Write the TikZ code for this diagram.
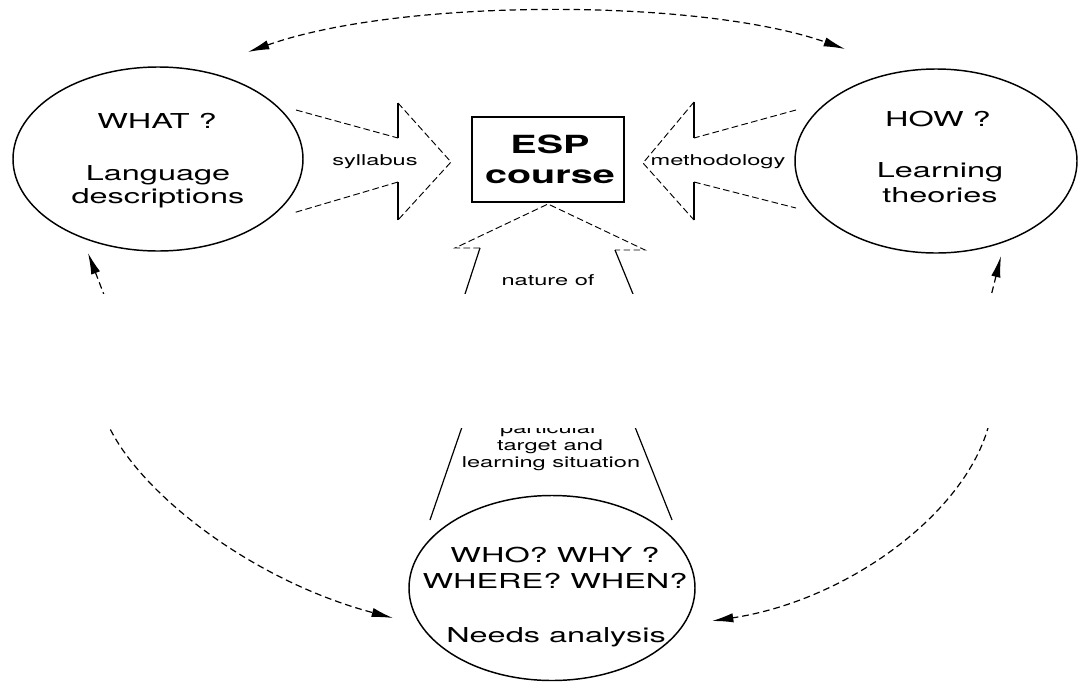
\documentclass[tikz,border=0pt]{standalone}
\usepackage{fontspec}
\setmainfont{TeX Gyre Heros}[FakeStretch=1.58]
\usetikzlibrary{arrows.meta,shapes.geometric}

\begin{document}
\begin{tikzpicture}[x=0.75pt,y=0.75pt,yscale=-1,xscale=1,
  bubble/.style={draw, ellipse, line width=1.1pt, inner sep=0pt},
  bigtext/.style={anchor=base, inner sep=0pt, font=\fontsize{15.4}{18}\selectfont},
  smalltext/.style={anchor=base, inner sep=0pt, font=\fontsize{11.2}{13}\selectfont},
  barb/.style={line width=0.9pt},
  faint/.style={line width=0.7pt, dash pattern=on 5pt off 2.5pt},
  cycleline/.style={line width=0.9pt, dash pattern=on 5pt off 3pt,
    {Latex[length=16pt,width=7pt,fill=black]}-{Latex[length=16pt,width=7pt,fill=black]}}]
\useasboundingbox (0,0) rectangle (1078,682);

%Shape: Ellipse [what]
\node[bubble, minimum width=217.5pt, minimum height=138pt] (what) at (158,159) {};
%Shape: Ellipse [how]
\node[bubble, minimum width=211.5pt, minimum height=138pt] (how) at (936,161) {};
%Shape: Ellipse [who]
\node[bubble, minimum width=214.5pt, minimum height=138.75pt] (who) at (552,588) {};
%Shape: Rectangle [esp]
\node[draw, line width=1.3pt, minimum width=114pt, minimum height=63.75pt] (esp) at (548,159.5) {};

%Curve Lines (top)
\coordinate (topL) at (248,52);
\coordinate (topR) at (845,49);
\draw[cycleline] (topL) .. controls (400,-2) and (700,-2) .. (topR);
%Curve Lines (left)
\coordinate (leftup) at (88,253);
\coordinate (leftdown) at (393,618);
\draw[cycleline] (leftup) -- (106,300) -- (106,420) .. controls (135,490) and (250,580) .. (leftdown);
%Curve Lines (right)
\coordinate (rightup) at (1001,256);
\coordinate (rightdown) at (712,621);
\draw[cycleline] (rightup) -- (990,300) -- (990,420) .. controls (970,510) and (850,600) .. (rightdown);

%Straight Lines (syllabus arrow)
\draw[faint] (296,110) -- (398,138);
\draw[barb] (398,138) -- (398,103);
\draw[faint] (398,103) -- (451,162) -- (398,220);
\draw[barb] (398,220) -- (398,182);
\draw[faint] (398,182) -- (293,213);
%Straight Lines (methodology arrow)
\draw[faint] (796,110) -- (694,138);
\draw[barb] (694,138) -- (694,102);
\draw[faint] (694,102) -- (643,163) -- (694,220);
\draw[barb] (694,220) -- (694,182);
\draw[faint] (694,182) -- (796,208);
%Straight Lines (needs arrow)
\draw[barb] (480,248) -- (465,294) -- (462,427) -- (430,520);
\draw[faint] (480,248) -- (455,248) -- (548,204) -- (645,250) -- (615,250);
\draw[barb] (615,250) -- (633,294) -- (635,427) -- (672,520);

% Text Node
\node[bigtext] (whatq) at (157,128) {WHAT ?};
\node[bigtext] (lang) at (158,180) {Language};
\node[bigtext] (desc) at (158,203) {descriptions};
% Text Node
\node[bigtext] (howq) at (938,126) {HOW ?};
\node[bigtext] (learn) at (940,177) {Learning};
\node[bigtext] (theo) at (940,202) {theories};
% Text Node
\node[bigtext] (whoq) at (555,562) {WHO? WHY ?};
\node[bigtext] (whereq) at (555,588) {WHERE? WHEN?};
\node[bigtext] (needs) at (556,642) {Needs analysis};
% Text Node
\node[anchor=base, inner sep=0pt, font=\bfseries\fontsize{18.75}{20}\selectfont] (esptext) at (550,153) {ESP};
\node[anchor=base, inner sep=0pt, font=\bfseries\fontsize{18.75}{20}\selectfont] (course) at (550,183) {course};
% Text Node
\node[smalltext] (syl) at (375,165) {syllabus};
\node[smalltext] (meth) at (718,165) {methodology};
\node[smalltext] (nat) at (548,285) {nature of};
\node[smalltext] (part) at (549,433) {particular};
\node[smalltext] (targ) at (550,450) {target and};
\node[smalltext] (lsit) at (551,467) {learning situation};

%missing band of the page
\fill[white] (0,294) rectangle (1078,428);

\end{tikzpicture}
\end{document}
